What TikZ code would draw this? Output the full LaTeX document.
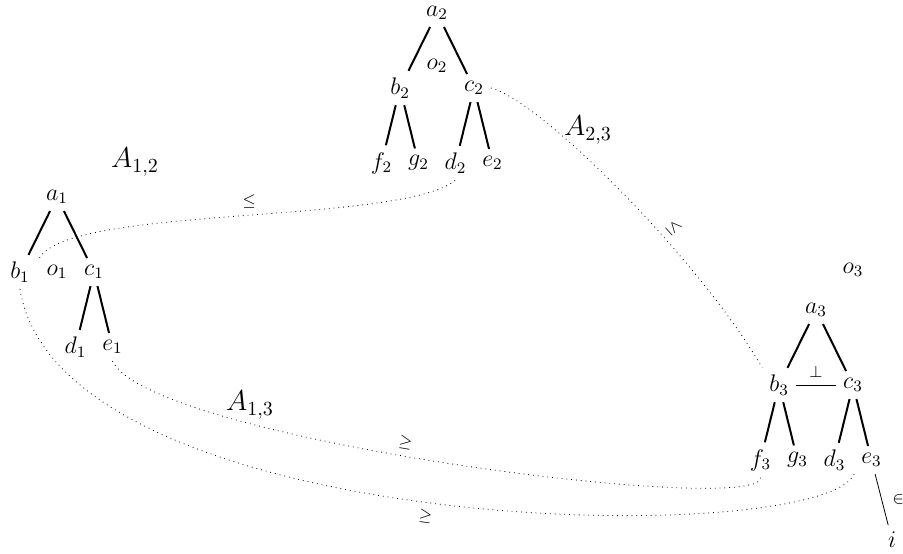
\documentclass[tikz,border=0pt]{standalone}
\usetikzlibrary{positioning}

\begin{document}
\begin{tikzpicture}[
    x=0.5pt, y=-0.5pt,
    every node/.style={font=\large},
    level distance=37.5pt,
    level 1/.style={sibling distance=37pt},
    level 2/.style={sibling distance=18.5pt},
    edge from parent/.style={draw, line width=1pt},
    rel/.style={dotted},
    rellabel/.style={font=\footnotesize},
    setname/.style={font=\Large},
]
\useasboundingbox (0,0) rectangle (903,553);

% first tree
\node (a1) at (57,197) {$a_1$}
    child {node (b1) {$b_1$}}
    child {node (c1) {$c_1$}
        child {node (d1) {$d_1$}}
        child {node (e1) {$e_1$}}};
\node (o1) at (57,272) {$o_1$};

% second tree
\node (a2) at (437,13) {$a_2$}
    child {node (b2) {$b_2$}
        child {node (f2) {$f_2$}}
        child {node (g2) {$g_2$}}}
    child {node (c2) {$c_2$}
        child {node (d2) {$d_2$}}
        child {node (e2) {$e_2$}}};
\node (o2) at (437,66) {$o_2$};

% third tree
\node (a3) at (816,310) {$a_3$}
    child {node (b3) {$b_3$}
        child {node (f3) {$f_3$}}
        child {node (g3) {$g_3$}}}
    child {node (c3) {$c_3$}
        child {node (d3) {$d_3$}}
        child {node (e3) {$e_3$}}};
\node (o3) at (853,270) {$o_3$};
\node (i) at (892,540) {$i$};

\draw (b3) -- node[above, rellabel] {$\bot$} (c3);
\draw (e3) -- node[right=2pt, rellabel] {$\in$} (i);

% alignments
\node[setname] (A12) at (135,162) {$A_{1,2}$};
\node[setname] (A23) at (588,130) {$A_{2,3}$};
\node[setname] (A13) at (250,405) {$A_{1,3}$};

\draw[rel] (o1.north west) .. controls (70,205) and (400,225) .. node[above, rellabel, pos=0.52] {$\leq$} (d2.south);
\draw[rel] (c2.east) .. controls (540,100) and (700,260) .. node[sloped, above, rellabel, pos=0.63] {$\leq$} (b3.north west);
\draw[rel] (e1.south) .. controls (150,440) and (760,517) .. node[sloped, above, rellabel, pos=0.45] {$\geq$} (f3.south);
\draw[rel] (b1.south) .. controls (60,540) and (820,550) .. node[sloped, below, rellabel, pos=0.49] {$\geq$} (e3.south west);

\end{tikzpicture}
\end{document}
